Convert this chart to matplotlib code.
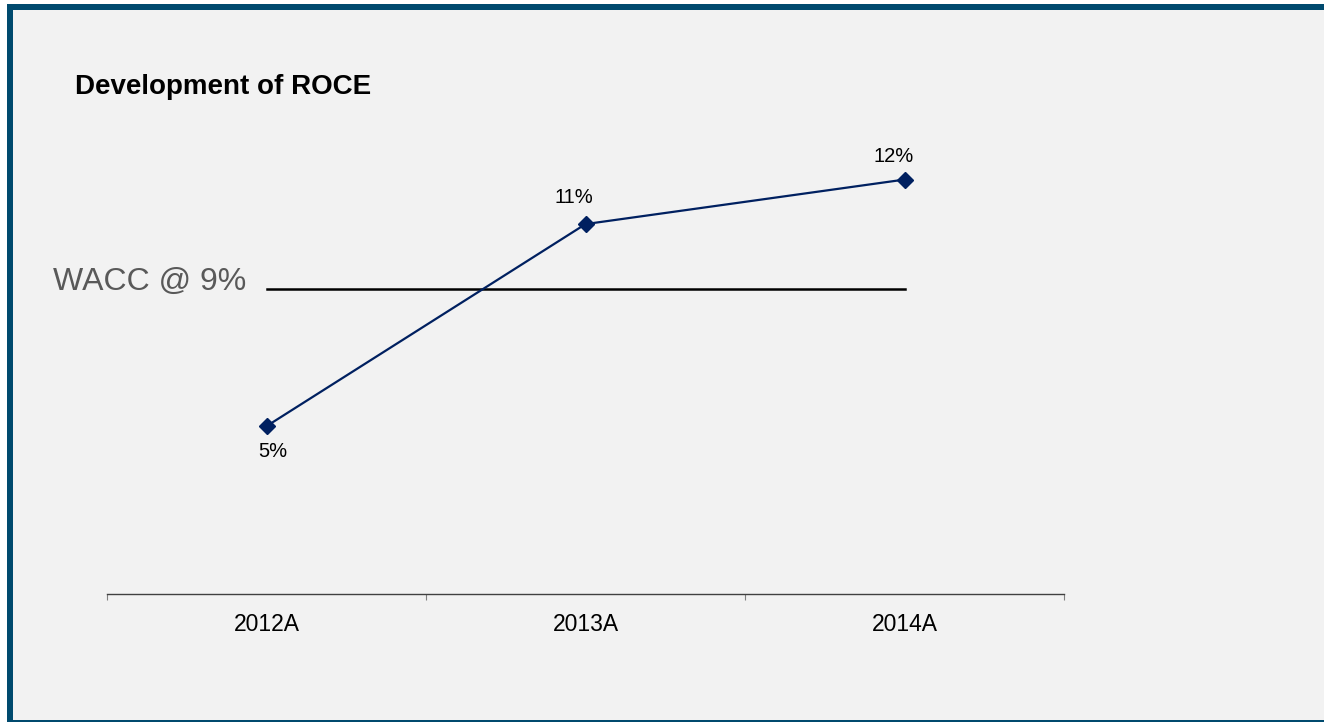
import matplotlib.pyplot as plt
from matplotlib.patches import Rectangle

plt.rcParams['font.family'] = ['Liberation Sans', 'DejaVu Sans']

# data
years = ["2012A", "2013A", "2014A"]
roce = [4.9, 10.8, 12.1]
wacc = 8.9
wacc_label = "WACC @ 9%"
title = "Development of ROCE"

# label offsets in pixels (dx, dy), purely layout
label_offsets = [(6, -25), (-12, 27), (-11, 23)]

W, H = 1324, 722
fig = plt.figure(figsize=(W / 100, H / 100), dpi=100, facecolor="white")

# panel with dark blue frame (right/bottom edges run off the image)
frame = Rectangle((10 / W, -1 / H), (1340 - 10) / W, (723 - 7) / H,
                  transform=fig.transFigure, facecolor="#F2F2F2",
                  edgecolor="#004A6E", linewidth=6 * 0.72, zorder=-5)
fig.patches.append(frame)

ax = fig.add_axes([107 / W, (H - 594) / H, (1064 - 107) / W, (594 - 114.5) / H])
ax.set_facecolor("none")
ax.set_zorder(2)

x = list(range(len(years)))
ax.plot(x, roce, color="#002060", lw=1.6, marker="D", markersize=8,
        markeredgecolor="#002060", zorder=3)
ax.plot([x[0], x[-1]], [wacc, wacc], color="black", lw=1.8, zorder=2)

for xi, v, (dx, dy) in zip(x, roce, label_offsets):
    ax.annotate(f"{v:.0f}%", (xi, v), xytext=(dx, dy), textcoords="offset pixels",
                ha="center", va="center", fontsize=14.5, color="black")

ax.annotate(wacc_label, (x[0], wacc), xytext=(-20, 7), textcoords="offset pixels",
            ha="right", va="center", fontsize=23, color="#595959",
            annotation_clip=False)

ax.set_xlim(-0.5, len(years) - 0.5)
ax.set_ylim(0, 14)

for s in ["top", "left", "right"]:
    ax.spines[s].set_visible(False)
ax.spines["bottom"].set_color("#404040")
ax.spines["bottom"].set_linewidth(1.0)

ax.set_yticks([])
ax.set_xticks(x)
ax.set_xticklabels(years, fontsize=16.5)
ax.tick_params(axis="x", which="major", length=0, pad=14)
ax.set_xticks([i - 0.5 for i in range(len(years) + 1)], minor=True)
ax.tick_params(axis="x", which="minor", length=6 * 0.72, width=0.8, color="#808080")

fig.text(75 / W, (H - 87) / H, title, ha="left", va="center",
         fontsize=20, fontweight="bold", color="black", zorder=3)

fig.savefig("out.png", dpi=100, facecolor=fig.get_facecolor())
